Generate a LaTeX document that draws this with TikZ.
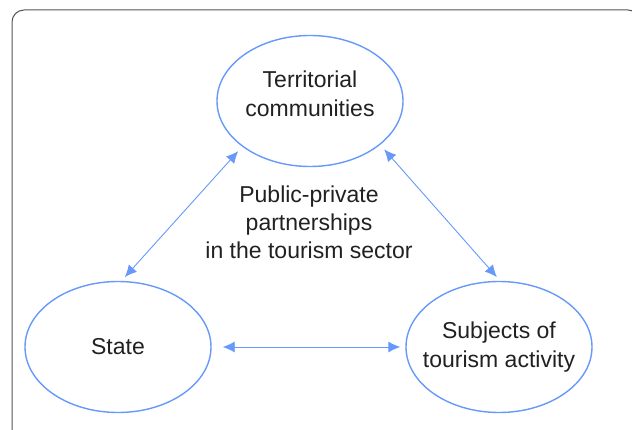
\documentclass[tikz,border=0pt]{standalone}
\usepackage{fontspec}
\setmainfont{Liberation Sans}
\usepackage{tikz}
\usetikzlibrary{shapes.geometric,arrows.meta}
\definecolor{partblue}{RGB}{102,153,250}
\definecolor{parttext}{RGB}{33,33,33}
\definecolor{partframe}{RGB}{85,85,85}

\begin{document}
\begin{tikzpicture}[x=1pt,y=-1pt,
  actor/.style={ellipse, draw=partblue, line width=1.4pt, minimum width=186pt,
    minimum height=131pt, inner xsep=-30pt, inner ysep=0pt, align=center, text=parttext,
    font=\fontsize{23}{28.5}\selectfont},
  link/.style={draw=partblue, line width=0.9pt,
    {Latex[length=12pt,width=11pt]}-{Latex[length=12pt,width=11pt]}}]
\useasboundingbox (0,0) rectangle (632,430);
\draw[partframe, line width=1pt, rounded corners=12pt] (12,10) rectangle (640,442);
\node[actor, label={[align=center, text=parttext, font=\fontsize{23}{28.5}\selectfont,
  yshift=7pt]center:{Territorial\\communities}}] (terr) at (310,101) {};
\node[actor] (state) at (118,347) {State};
\node[actor] (subj) at (499,347) {Subjects of\\tourism activity};
\node[align=center, text=parttext, font=\fontsize{23}{28}\selectfont] (ppp) at (309,222.5)
  {Public-private\\partnerships\\in the tourism sector};
\path[link, shorten <=5pt, shorten >=6pt] (state.87) -- (terr.214);
\path[link, shorten <=6pt, shorten >=5pt] (terr.328) -- (subj.89);
\path[link, shorten <=11pt, shorten >=5pt] (state.east) -- (subj.west);
\end{tikzpicture}
\end{document}
